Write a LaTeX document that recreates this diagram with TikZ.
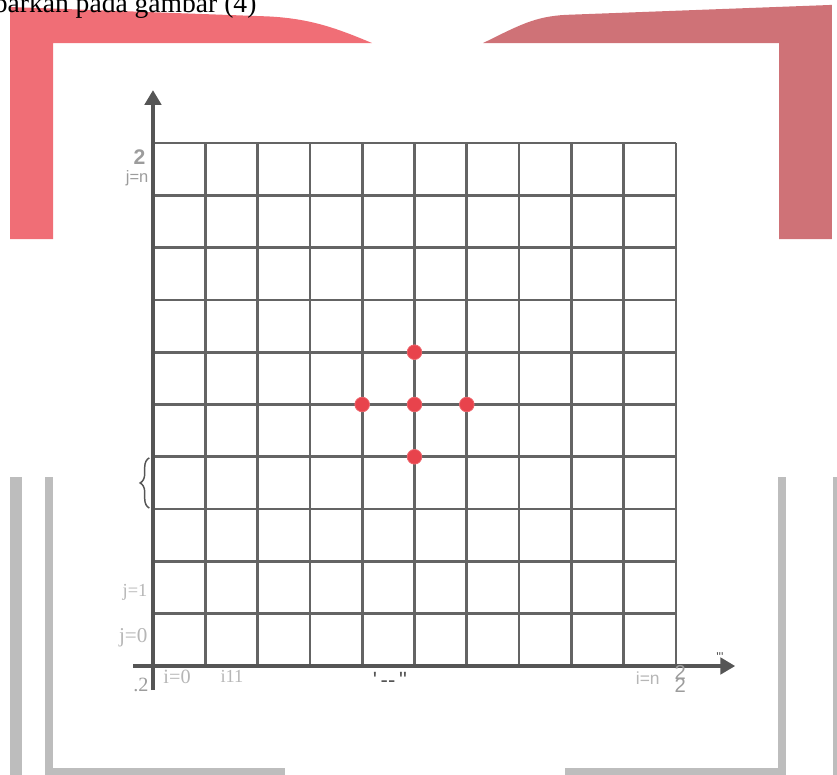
\documentclass[tikz,border=0pt]{standalone}
\usepackage{fontspec}
\setmainfont{Liberation Serif}
\newfontfamily\axisfont{Liberation Sans}
\usepackage{tikz}
\usetikzlibrary{arrows.meta,decorations.pathreplacing}
\definecolor{rose500}{HTML}{F06E76}
\definecolor{rose600}{HTML}{CF7277}
\definecolor{gray400}{HTML}{BDBDBD}
\definecolor{gray500}{HTML}{9C9C9C}
\definecolor{gray600}{HTML}{646464}
\definecolor{gray700}{HTML}{555555}
\definecolor{dotred}{HTML}{E8434C}
\tikzset{
  gridline/.style={draw=gray600, line width=1.5pt},
  axis/.style={draw=gray700, line width=1.7pt, -{Triangle[length=8pt,width=9pt]}},
  framebar/.style={fill=gray400},
  dot/.style={circle, fill=dotred, draw=dotred!80!white, inner sep=0pt, minimum size=8pt},
  jlabel/.style={font=\axisfont\fontsize{9}{10}\selectfont, text=gray500, inner sep=0pt},
  ilabel/.style={font=\fontsize{10}{11}\selectfont, text=gray400!80!gray500, inner sep=0pt},
}

\begin{document}
\begin{tikzpicture}
  \useasboundingbox (-2.925,-2.065) rectangle (13.078,12.734);
  \clip (-2.925,-2.065) rectangle (13.078,12.734);

  % red corner bands
  \fill[rose500] (-2.73,8.16) -- (-2.73,12.6) -- (2.2,12.42)
    .. controls (3.0,12.38) and (3.5,12.2) .. (4.19,11.91)
    -- (-1.91,11.91) -- (-1.91,8.16) -- cycle;
  \fill[rose600] (6.31,11.91) .. controls (7.0,12.25) and (7.3,12.42) .. (7.9,12.45)
    -- (12.98,12.64) -- (12.98,8.16) -- (11.97,8.16) -- (11.97,11.91) -- cycle;
  \node[font=\fontsize{15}{17}\selectfont, anchor=base west, inner sep=0pt] (caption) at (-3.05,12.5) {barkan pada gambar (4)};

  % gray frame
  \fill[framebar] (-2.73,3.61) rectangle (-2.5,-2.1);
  \fill[framebar] (-2.06,3.61) rectangle (-1.91,-1.95);
  \fill[framebar] (-2.06,-1.95) rectangle (2.52,-2.1);
  \fill[framebar] (11.95,3.61) rectangle (12.10,-1.95);
  \fill[framebar] (7.88,-1.95) rectangle (12.10,-2.1);
  \fill[framebar] (13.0,3.61) rectangle (13.2,-2.1);

  % grid and axes
  \draw[gridline] (0,0) grid (10,10);
  \coordinate (yfoot) at (0,-0.46);
  \coordinate (ytip) at (0,11.01);
  \coordinate (xfoot) at (-0.38,0);
  \coordinate (xtip) at (11.13,0);
  \draw[axis] (yfoot) -- (ytip);
  \draw[axis] (xfoot) -- (xtip);

  % stencil points
  \node[dot] (pC) at (5,5) {};
  \node[dot] (pW) at (4,5) {};
  \node[dot] (pE) at (6,5) {};
  \node[dot] (pN) at (5,6) {};
  \node[dot] (pS) at (5,4) {};

  \draw[draw=gray700, line width=0.8pt, decorate, decoration={brace,amplitude=5pt}]
    (-0.07,3.02) -- (-0.07,3.98);

  % axis labels
  \node[font=\axisfont\bfseries\fontsize{11.5}{12}\selectfont, text=gray500, anchor=east, inner sep=0pt] (ytop) at (-0.14,9.73) {2};
  \node[jlabel, anchor=east] (jn) at (-0.08,9.33) {j=n};
  \node[ilabel, anchor=east] (j1) at (-0.1,1.41) {j=1};
  \node[ilabel, anchor=east, font=\fontsize{11.5}{12}\selectfont] (j0) at (-0.1,0.54) {j=0};
  \node[ilabel, anchor=east, text=gray500, font=\fontsize{11}{12}\selectfont] (origin) at (-0.08,-0.36) {.2};
  \node[ilabel, font=\fontsize{11}{12}\selectfont] (i0) at (0.46,-0.21) {i=0};
  \node[ilabel] (i1) at (1.51,-0.19) {i11};
  \node[font=\axisfont\fontsize{12}{12}\selectfont, text=gray700, inner sep=0pt] (imid) at (4.53,-0.27) {\textquotesingle\,-{}-\,\textquotedbl};
  \node[ilabel, font=\axisfont\fontsize{9.5}{10}\selectfont] (in) at (9.46,-0.23) {i=n};
  \node[font=\axisfont\fontsize{11}{12}\selectfont, text=gray500, inner sep=0pt] (xend) at (10.08,-0.12) {2};
  \node[font=\axisfont\fontsize{11}{12}\selectfont, text=gray500, inner sep=0pt] (xend2) at (10.08,-0.38) {2};
  \node[font=\axisfont\fontsize{7}{7}\selectfont, text=gray700, inner sep=0pt] (xdots) at (10.84,0.17) {\textquotesingle\textquotesingle\textquotesingle};
\end{tikzpicture}
\end{document}
